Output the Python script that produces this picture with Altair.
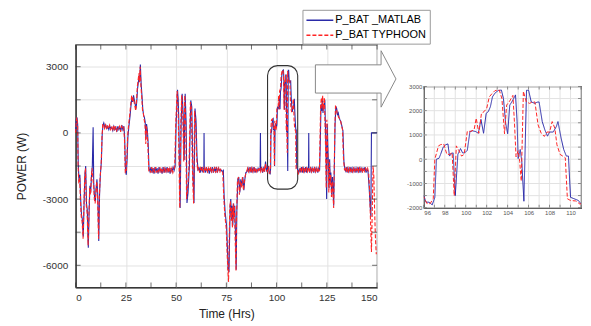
import altair as alt
import pandas as pd

# ---------------- data ----------------
series_names = ["P_BAT _MATLAB", "P_BAT TYPHOON"]
series_colors = ["#2a2aa8", "#ff2424"]
series_dashes = [[1, 0], [4, 2]]

matlab_points = [
    (0.0, 100), (0.3, 600), (0.7, 700), (1.0, 400), (1.3, -1400), (1.7, -2200), (2.1, -1900),
    (2.5, -3000), (2.9, -3700), (3.3, -3900), (3.8, -4700), (4.2, -3200), (4.6, -1900), (5.0, -1500),
    (5.4, -3200), (5.8, -3500), (6.3, -5200), (6.7, -3600), (7.1, -2400), (7.5, -2700), (7.9, -1900),
    (8.3, -1500), (8.7, 250), (9.0, -2300), (9.4, -2900), (9.8, -3100), (10.2, -2500), (10.6, -2100),
    (11.0, -2800), (11.5, -4900), (11.9, -2800), (12.3, -1900), (12.8, -1300), (13.2, -100), (13.6, 350),
    (14.0, 450), (14.5, 250), (15.0, 350), (15.5, 200), (16.0, 300), (16.5, 150), (17.0, 300),
    (17.5, 200), (18.0, 250), (18.5, 100), (19.0, 300), (19.5, 150), (20.0, 250), (20.5, 50),
    (21.0, 300), (21.5, 150), (22.0, 250), (22.5, 100), (23.0, 350), (23.5, 150), (24.0, 300),
    (24.4, -200), (24.8, -1700), (25.2, -1900),
    (25.6, -1200), (26.0, -200), (26.5, 300), (27.0, 700), (27.5, 1200), (28.0, 1600), (28.4, 1400),
    (28.8, 1700), (29.2, 1500), (29.6, 1300), (30.0, 1100), (30.4, 1400), (30.8, 2000), (31.2, 2300),
    (31.6, 2600), (31.9, 2400), (32.2, 3100), (32.6, 2200), (33.0, 1700), (33.4, 1100), (33.8, 800),
    (34.2, 700), (34.6, 500), (35.0, -300), (35.3, 400), (35.7, 100), (36.1, -500), (36.5, -1600),
    (37.0, -1750), (37.5, -1550), (38.0, -1800), (38.5, -1600), (39.0, -1850), (39.5, -1550),
    (40.0, -1750), (40.5, -1600), (41.0, -1850), (41.5, -1550), (42.0, -1750), (42.5, -1650),
    (43.0, -1850), (43.5, -1550), (44.0, -1800), (44.5, -1600), (45.0, -1750), (45.5, -1550),
    (46.0, -1800), (46.5, -1600), (47.0, -1850), (47.5, -1600), (48.0, -1750), (48.5, -1550),
    (49.0, -1700),
    (49.5, -1530), (50.0, 420), (50.7, 1950), (51.0, 1550), (51.3, 720), (52.0, -3400), (52.5, 420),
    (53.0, 1770), (53.5, 870), (54.0, -1230), (54.5, 1770), (55.0, 420), (55.4, -3180), (55.9, -2730),
    (56.6, -1530), (57.3, 1470), (57.8, 1170), (58.4, -1980), (58.9, -3180), (59.4, 1100), (59.9, 570),
    (60.4, -1080), (60.9, -1680),
    (61.5, -1600), (62.0, -1800), (62.5, -1550), (63.0, -1750), (63.5, -1650), (63.8, -1600),
    (63.9, 0), (64.0, -1600), (64.5, -1800), (65.0, -1550), (65.5, -1750), (66.0, -1600),
    (66.5, -1850), (67.0, -1600), (67.5, -1750), (68.0, -1550), (68.5, -1800), (69.0, -1600),
    (69.5, -1750), (70.0, -1550), (70.5, -1800), (71.0, -1600), (71.5, -1700), (72.0, -1650),
    (72.5, -1700), (73.0, -1750),
    (73.5, -1700), (73.9, -2900), (74.4, -3600), (75.1, -4200), (75.6, -5400), (75.9, -6200),
    (76.3, -6300), (76.6, -4800), (76.9, -3300), (77.2, -3000), (77.6, -3900), (77.9, -3300),
    (78.2, -4200), (78.6, -3200), (78.9, -3800), (79.2, -3300), (79.6, -4800), (79.9, -6200),
    (80.2, -3600), (80.7, -2100), (81.2, -2000), (81.7, -2700), (82.2, -2100), (82.7, -2400),
    (83.2, -2000), (83.7, -2600), (84.2, -2100), (84.7, -1800), (85.3, -1750), (85.8, -1600),
    (86.3, -1750), (86.8, -1550), (87.3, -1800), (87.8, -1600), (88.3, -1750), (88.8, -1550),
    (89.3, -1800), (89.8, -1650), (90.3, -1750), (90.8, -1600), (91.3, -1700), (91.8, -1650),
    (91.95, 0), (92.1, -1700), (92.5, -1550), (93.0, -1800), (93.5, -1600), (94.0, -1750),
    (94.5, -1300), (95.0, -1700), (95.5, -1600),
    (96.0, -1500), (96.2, -1770), (96.5, -1770), (96.8, -1880), (97.05, -1570), (97.2, 0),
    (97.45, 40), (97.6, 200), (97.85, 500), (98.1, 600), (98.3, 630), (98.45, 130), (98.65, 240),
    (98.8, 260), (99.0, -1500), (99.25, 200), (99.5, 440), (99.7, 260), (99.9, 260), (100.15, 370),
    (100.4, 1140), (100.65, 1170), (100.95, 1140), (101.2, 1070), (101.45, 1640), (101.7, 1070),
    (101.95, 1890), (102.15, 1960), (102.35, 2160), (102.55, 2570), (102.8, 2730), (103.1, 2830),
    (103.4, 2850), (103.6, 2500), (103.8, 1500), (104.0, 1050), (104.2, 2230), (104.45, 2400),
    (104.75, 2650), (104.9, 1550), (105.0, 30), (105.2, 400), (105.35, -100), (105.55, -1730),
    (105.8, 2840), (106.0, 2840), (106.25, 2360), (106.6, 2300), (106.8, 2350), (107.0, 2360),
    (107.3, 1550), (107.55, 1210), (107.8, 950), (108.0, 1120), (108.35, 1120), (108.65, 1350),
    (108.8, 1550), (109.1, 870), (109.35, 400), (109.6, 130), (109.8, 130), (110.0, -1570),
    (110.3, -1620), (110.75, -1700), (111.0, -1840),
    (111.5, -1650), (112.0, -1750), (112.5, -1550), (113.0, -1800), (113.5, -1600), (114.0, -1750),
    (114.5, -1550), (115.0, -1800), (115.5, -1600), (115.9, -1650), (116.0, 0), (116.1, -1650),
    (116.5, -1800), (117.0, -1550), (117.5, -1750), (118.0, -1600), (118.5, -1800), (119.0, -1550),
    (119.5, -1750), (120.0, -1600), (120.5, -1800), (121.0, -1600), (121.4, -1700),
    (121.8, -200), (122.1, 1300), (122.5, 1000), (122.8, 1600), (123.1, 900), (123.4, 1300),
    (123.7, 1200), (124.0, 1500), (124.3, 300), (124.6, -1000), (124.9, -3000), (125.2, 400),
    (125.5, -600), (125.8, -1500), (126.1, -2500), (126.4, -1200), (126.7, -2200), (127.0, -1800),
    (127.4, -2800), (127.8, -2000), (128.1, -2500), (128.4, -3300), (128.8, -1200), (129.1, 400),
    (129.5, 1200), (129.9, 1100), (130.3, 800), (130.7, 900), (131.1, 700), (131.5, 600),
    (132.0, 500), (132.5, 300), (133.0, 100), (133.5, -1300),
    (134.0, -1650), (134.5, -1750), (135.0, -1550), (135.5, -1800), (136.0, -1600), (136.5, -1750),
    (137.0, -1550), (137.5, -1800), (138.0, -1600), (138.5, -1750), (139.0, -1600), (139.5, -1800),
    (140.0, -1600), (140.5, -1750), (141.0, -1550), (141.5, -1800), (142.0, -1600), (142.5, -1750),
    (143.0, -1600), (143.5, -1700), (144.0, -1550), (144.5, -1800), (145.0, -1650), (145.5, -1750),
    (146.0, -2400), (146.5, -3200), (146.9, -3800), (147.2, 0), (148.0, 0), (150.0, 0),
]

typhoon_points = [
    (0.0, 0), (0.3, 500), (0.6, 700), (1.0, 300), (1.2, -1500), (1.6, -2300), (2.0, -2000),
    (2.4, -3100), (2.8, -3800), (3.2, -4000), (3.7, -4800), (4.1, -3300), (4.5, -2000), (4.9, -1600),
    (5.3, -3300), (5.7, -3600), (6.2, -5100), (6.6, -3700), (7.0, -2500), (7.4, -2800), (7.8, -2000),
    (8.2, -1600), (8.6, -2100), (9.0, -2400), (9.3, -3000), (9.7, -3200), (10.1, -2600), (10.5, -2200),
    (10.9, -2900), (11.4, -4800), (11.8, -2900), (12.2, -2000), (12.7, -1400), (13.1, -200), (13.5, 400),
    (13.9, 400), (14.4, 200), (14.9, 350), (15.4, 150), (15.9, 300), (16.4, 200), (16.9, 350),
    (17.4, 150), (17.9, 250), (18.4, 150), (18.9, 350), (19.4, 100), (19.9, 300), (20.4, 100),
    (20.9, 250), (21.4, 200), (21.9, 300), (22.4, 50), (22.9, 300), (23.4, 200), (23.9, 250),
    (24.3, -300), (24.7, -1800), (25.1, -1800), (25.5, -1100),
    (25.9, -100), (26.4, 400), (26.9, 800), (27.4, 1300), (27.9, 1700), (28.3, 1400), (28.7, 1600),
    (29.1, 1400), (29.5, 1200), (29.9, 1000), (30.3, 1500), (30.7, 2100), (31.1, 2400), (31.5, 2700),
    (31.8, 2300), (32.1, 3000), (32.5, 2100), (32.9, 1600), (33.3, 1000), (33.7, 900), (34.1, 600),
    (34.5, 400), (34.9, -500), (35.2, 300), (35.6, 0), (36.0, -700), (36.4, -1700),
    (36.9, -1650), (37.4, -1800), (37.9, -1550), (38.4, -1750), (38.9, -1600), (39.4, -1800),
    (39.9, -1550), (40.4, -1800), (40.9, -1650), (41.4, -1750), (41.9, -1550), (42.4, -1800),
    (42.9, -1600), (43.4, -1750), (43.9, -1550), (44.4, -1800), (44.9, -1650), (45.4, -1750),
    (45.9, -1550), (46.4, -1800), (46.9, -1600), (47.4, -1750), (47.9, -1600), (48.4, -1800),
    (48.9, -1650),
    (49.3, -1500), (49.8, 400), (50.5, 1900), (50.8, 1500), (51.1, 600), (51.8, -3400), (52.3, 400),
    (52.8, 1700), (53.3, 800), (53.8, -1300), (54.3, 1700), (54.8, 300), (55.2, -3000), (55.7, -2600),
    (56.4, -1500), (57.1, 1400), (57.6, 1100), (58.2, -2000), (58.7, -3200), (59.2, 1000), (59.7, 500),
    (60.2, -1100), (60.7, -1700),
    (61.2, -1550), (61.7, -1800), (62.2, -1600), (62.7, -1750), (63.2, -1550), (63.7, -1800),
    (64.2, -1600), (64.7, -1750), (65.2, -1550), (65.7, -1800), (66.2, -1600), (66.7, -1750),
    (67.2, -1550), (67.7, -1800), (68.2, -1650), (68.7, -1750), (69.2, -1550), (69.7, -1800),
    (70.2, -1600), (70.7, -1750), (71.2, -1600), (71.7, -1800), (72.2, -1650), (72.7, -1700),
    (73.2, -1800), (73.7, -2900), (74.2, -3700), (74.9, -4300), (75.4, -5500), (75.8, -6300),
    (76.1, -6750), (76.4, -4900), (76.7, -3400), (77.0, -3100), (77.4, -4000), (77.7, -3400),
    (78.0, -4300), (78.4, -3200), (78.7, -3900), (79.0, -3300), (79.4, -4900), (79.8, -6250),
    (80.1, -3700), (80.5, -2200), (81.0, -2000), (81.5, -2800), (82.0, -2200), (82.5, -2500),
    (83.0, -2000), (83.5, -2600), (84.0, -2200), (84.5, -1900), (85.1, -1750), (85.6, -1600),
    (86.1, -1750), (86.6, -1550), (87.1, -1800), (87.6, -1600), (88.1, -1750), (88.6, -1550),
    (89.1, -1800), (89.6, -1600), (90.1, -1750), (90.6, -1600), (91.1, -1700), (91.6, -1550),
    (92.1, -1750), (92.6, -1600), (93.1, -1800), (93.6, -1550), (94.1, -1750), (94.4, -1400),
    (94.9, -1650), (95.4, -1750), (95.8, -1550),
    (96.0, -1550), (96.3, -1830), (96.6, -1830), (96.9, -1620), (97.05, 0), (97.4, 550), (97.6, 600),
    (97.9, 630), (98.2, 200), (98.45, 200), (98.7, 270), (98.9, -1500), (99.1, 550), (99.35, 350),
    (99.6, 130), (99.85, 200), (100.15, 1150), (100.5, 1150), (100.8, 1220), (101.0, 1690),
    (101.25, 1070), (101.5, 1890), (101.75, 1960), (102.0, 2100), (102.25, 2570), (102.5, 2700),
    (102.8, 2830), (103.2, 2850), (103.45, 2500), (103.7, 1050), (103.9, 2230), (104.2, 2400),
    (104.5, 2630), (104.65, 1500), (104.8, 100), (105.0, 350), (105.15, -100), (105.3, -900),
    (105.5, 2800), (105.78, 2360), (106.1, 2300), (106.35, 2360), (106.6, 2360), (106.9, 1420),
    (107.2, 1070), (107.5, 940), (107.75, 1120), (108.0, 1120), (108.25, 1550), (108.5, 1280),
    (108.7, 600), (109.0, 200), (109.25, 130), (109.5, 60), (109.7, -1630), (110.0, -1700),
    (110.5, -1720), (110.9, -1850),
    (111.4, -1750), (111.9, -1550), (112.4, -1800), (112.9, -1600), (113.4, -1750), (113.9, -1550),
    (114.4, -1800), (114.9, -1600), (115.4, -1750), (115.9, -1550), (116.4, -1800), (116.9, -1600),
    (117.4, -1750), (117.9, -1550), (118.4, -1800), (118.9, -1600), (119.4, -1750), (119.9, -1550),
    (120.4, -1800), (120.9, -1650), (121.3, -1700),
    (121.6, -300), (121.9, 1200), (122.3, 1600), (122.6, 1100), (122.9, 1700), (123.2, 1000),
    (123.5, 1400), (123.8, 1600), (124.1, 400), (124.4, -800), (124.7, -2500), (125.0, 600),
    (125.3, -400), (125.7, -1800), (126.0, -2700), (126.3, -1300), (126.6, -2400), (126.9, -1900),
    (127.3, -2900), (127.7, -2200), (128.0, -2700), (128.4, -3400), (128.7, -1500), (129.0, 300),
    (129.3, 1200), (129.7, 1150), (130.1, 900), (130.5, 800), (130.9, 700), (131.3, 650),
    (131.8, 550), (132.3, 350), (132.8, 150), (133.3, -1200),
    (133.8, -1700), (134.3, -1550), (134.8, -1800), (135.3, -1600), (135.8, -1750), (136.3, -1550),
    (136.8, -1800), (137.3, -1600), (137.8, -1750), (138.3, -1550), (138.8, -1800), (139.3, -1650),
    (139.8, -1750), (140.3, -1550), (140.8, -1800), (141.3, -1600), (141.8, -1750), (142.3, -1550),
    (142.8, -1800), (143.3, -1650), (143.8, -1750), (144.3, -1600), (144.8, -1700), (145.3, -1600),
    (145.8, -1800), (146.3, -2600), (146.8, -4200), (147.2, -5400), (147.6, -3500), (148.0, -1500),
    (148.4, -2000), (148.8, -3600), (149.2, -4800), (149.6, -5500),
]

# axis grids / ticks / labels
main_x_ticks = [0, 12.5, 25, 37.5, 50, 62.5, 75, 87.5, 100, 112.5, 125, 137.5, 150]
main_y_ticks = [-6000, -4500, -3000, -1500, 0, 1500, 3000]
inset_x_ticks = [96, 97, 98, 99, 100, 101, 102, 103, 104, 105, 106, 107, 108, 109, 110, 111]
inset_y_ticks = [-2000, -1500, -1000, -500, 0, 500, 1000, 1500, 2000, 2500, 3000]
inset_x_labels = [96, 98, 100, 102, 104, 106, 108, 110]
inset_y_labels = [-2000, -1000, 0, 1000, 2000, 3000]
main_x_domain = [0, 150]
main_y_domain = [-7000, 4000]
inset_x_domain = [96, 111]
inset_y_domain = [-2000, 3000]
zoom_box = {"t0": [95.5], "t1": [110.5], "p0": [-2550], "p1": [3050]}

FONT = "Liberation Sans"
GRID = "#e2e2e2"
W, H = 303, 244
IW, IH = 158, 122

rows = []
for name, pts in zip(series_names, [matlab_points, typhoon_points]):
    for i, (t, p) in enumerate(pts):
        rows.append({"t": t, "p": p, "series": name, "order": i})
df = pd.DataFrame(rows)

color = alt.Color("series:N", scale=alt.Scale(domain=series_names, range=series_colors),
                  legend=alt.Legend(title=None))
dash = alt.StrokeDash("series:N", scale=alt.Scale(domain=series_names, range=series_dashes),
                      legend=alt.Legend(title=None))

# ---------------- main panel ----------------
mx = alt.X("t:Q", scale=alt.Scale(domain=main_x_domain, nice=False, zero=False),
           axis=alt.Axis(values=main_x_ticks, title="Time (Hrs)", labelOverlap=False,
                         labelExpr="datum.value % 25 == 0 ? datum.label : ''",
                         labelFontSize=10, titleFontSize=12, labelPadding=5, titlePadding=6))
my = alt.Y("p:Q", scale=alt.Scale(domain=main_y_domain, nice=False, zero=False),
           axis=alt.Axis(values=main_y_ticks, title="POWER (W)", labelOverlap=False,
                         labelExpr="datum.value % 3000 == 0 ? '' + datum.value : ''",
                         labelFontSize=10, titleFontSize=12, labelPadding=8, titlePadding=14))

lines = alt.Chart(df).mark_line(strokeWidth=1.1).encode(
    x=mx, y=my, color=color, strokeDash=dash, order="order:Q")

box_df = pd.DataFrame(zoom_box)
box = alt.Chart(box_df).mark_rect(cornerRadius=10, fill="transparent", stroke="#333",
                                  strokeWidth=1.1).encode(
    x=alt.X("t0:Q", title="Time (Hrs)"), x2="t1:Q",
    y=alt.Y("p0:Q", title="POWER (W)"), y2="p1:Q")

mxt = pd.DataFrame({"t": main_x_ticks})
myt = pd.DataFrame({"p": main_y_ticks})
tick_style = dict(color="#333", thickness=1, size=5)
mt_bottom = alt.Chart(mxt).mark_tick(orient="vertical", **tick_style).encode(
    x=alt.X("t:Q", title="Time (Hrs)"), y=alt.value(H - 2.5))
mt_top = alt.Chart(mxt).mark_tick(orient="vertical", **tick_style).encode(
    x=alt.X("t:Q", title="Time (Hrs)"), y=alt.value(2.5))
mt_left = alt.Chart(myt).mark_tick(orient="horizontal", **tick_style).encode(
    y=alt.Y("p:Q", title="POWER (W)"), x=alt.value(2.5))
mt_right = alt.Chart(myt).mark_tick(orient="horizontal", **tick_style).encode(
    y=alt.Y("p:Q", title="POWER (W)"), x=alt.value(W - 2.5))

arrow_path = "M-1,-0.35L0.63,-0.35L0.63,-0.7L1,0L0.63,0.7L0.63,0.35L-1,0.35Z"
arrow = alt.Chart(box_df).mark_point(shape=arrow_path, size=81 * 81, filled=True, fill="white",
                                     stroke="#888", strokeWidth=1, opacity=1).encode(
    x=alt.value(281.5), y=alt.value(34.5))

main = alt.layer(box, lines, mt_bottom, mt_top, mt_left, mt_right, arrow).properties(
    width=W, height=H)

# ---------------- inset panel ----------------
ix = alt.X("t:Q", scale=alt.Scale(domain=inset_x_domain, nice=False, zero=False),
           axis=alt.Axis(values=inset_x_labels, title=None, grid=False, labelOverlap=False,
                         labelFontSize=6, labelPadding=2, labelColor="#555"))
iy = alt.Y("p:Q", scale=alt.Scale(domain=inset_y_domain, nice=False, zero=False),
           axis=alt.Axis(values=inset_y_labels, title=None, grid=False, labelOverlap=False,
                         labelExpr="'' + datum.value",
                         labelFontSize=6, labelPadding=2, labelColor="#555"))

ixt = pd.DataFrame({"t": inset_x_ticks})
iyt = pd.DataFrame({"p": inset_y_ticks})

igrid_x = alt.Chart(ixt).mark_rule(color=GRID, strokeWidth=1).encode(x=ix)
igrid_y = alt.Chart(iyt).mark_rule(color=GRID, strokeWidth=1).encode(y=iy)

inset_lines = alt.Chart(df).mark_line(strokeWidth=1, clip=True).encode(
    x=ix, y=iy, color=color, strokeDash=dash, order="order:Q"
).transform_filter("datum.t >= 95.5 && datum.t <= 111.5")

itick = dict(color="#444", thickness=0.8, size=3)
it_bottom = alt.Chart(ixt).mark_tick(orient="vertical", **itick).encode(
    x=ix, y=alt.value(IH - 1.5))
it_top = alt.Chart(ixt).mark_tick(orient="vertical", **itick).encode(
    x=ix, y=alt.value(1.5))
it_left = alt.Chart(iyt).mark_tick(orient="horizontal", **itick).encode(
    y=iy, x=alt.value(1.5))
it_right = alt.Chart(iyt).mark_tick(orient="horizontal", **itick).encode(
    y=iy, x=alt.value(IW - 1.5))

inset = alt.layer(igrid_x, igrid_y, inset_lines, it_bottom, it_top, it_left, it_right).properties(
    width=IW, height=IH)

spacer = alt.Chart(box_df).mark_text(text="", opacity=0).properties(
    width=IW, height=42, view=alt.ViewBackground(stroke="transparent"))

right = alt.vconcat(spacer, inset, spacing=0, bounds="flush")

legend_line = "M-2,0L2,0"

chart = alt.hconcat(main, right, spacing=47, bounds="flush").properties(
    padding={"left": 6, "top": 0, "right": 0, "bottom": 0}
).configure_view(stroke="#444", strokeWidth=1.2).configure_axis(
    labelFont=FONT, titleFont=FONT, labelColor="#333", titleColor="#222",
    titleFontWeight="normal", gridColor=GRID, gridWidth=1, ticks=False,
    domainColor="#333", domainWidth=1.4, labelOverlap=False
).configure_legend(
    orient="none", legendX=228, legendY=-35, padding=3, strokeColor="#999",
    fillColor="white", labelFont=FONT, labelFontSize=11, labelColor="#000",
    symbolType=legend_line, symbolSize=182, symbolStrokeWidth=1.5,
    symbolOffset=7, labelOffset=8, rowPadding=2, titlePadding=0, cornerRadius=0
)

chart.save("out.html", embed_options={"renderer": "svg", "actions": False})
